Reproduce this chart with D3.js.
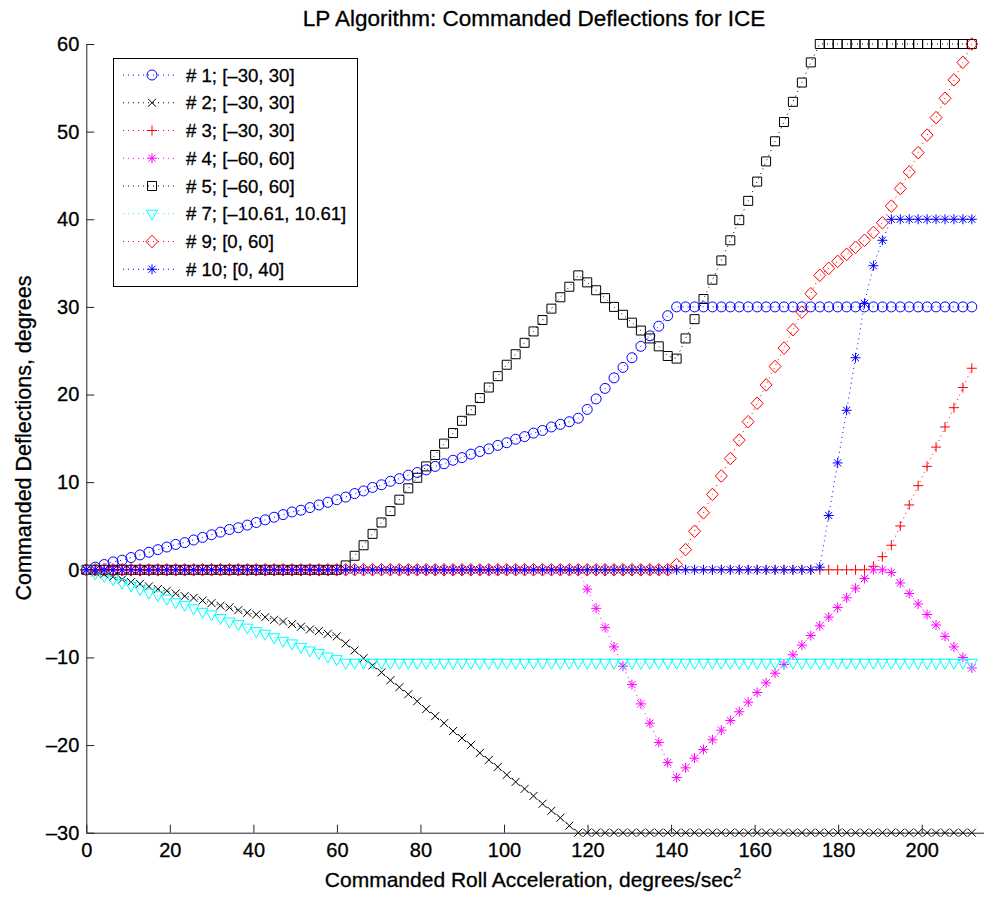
<!DOCTYPE html>
<html>
<head>
<meta charset="utf-8">
<script src="https://d3js.org/d3.v7.min.js"></script>
<style>
body { margin: 0; background: #fff; }
text { font-family: "Liberation Sans", Arial, Helvetica, sans-serif; fill: #000; stroke: #000; stroke-width: 0.3px; }
</style>
</head>
<body>
<div id="chart-area"></div>
<script>
// commanded roll acceleration (x)
var accel = [
  0, 2.14, 4.28, 6.42, 8.57, 10.71, 12.85, 14.99, 17.13, 19.27,
  21.41, 23.56, 25.70, 27.84, 29.98, 32.12, 34.26, 36.40, 38.55, 40.69,
  42.83, 44.97, 47.11, 49.25, 51.39, 53.54, 55.68, 57.82, 59.96, 62.10,
  64.24, 66.38, 68.53, 70.67, 72.81, 74.95, 77.09, 79.23, 81.37, 83.52,
  85.66, 87.80, 89.94, 92.08, 94.22, 96.36, 98.51, 100.65, 102.79, 104.93,
  107.07, 109.21, 111.35, 113.49, 115.64, 117.78, 119.92, 122.06, 124.20, 126.34,
  128.48, 130.63, 132.77, 134.91, 137.05, 139.19, 141.33, 143.47, 145.62, 147.76,
  149.90, 152.04, 154.18, 156.32, 158.46, 160.61, 162.75, 164.89, 167.03, 169.17,
  171.31, 173.45, 175.60, 177.74, 179.88, 182.02, 184.16, 186.30, 188.44, 190.59,
  192.73, 194.87, 197.01, 199.15, 201.29, 203.43, 205.58, 207.72, 209.86, 212.00
]

// deflections, degrees
var defl1 = [
  0, 0.3, 0.6, 0.9, 1.1, 1.4, 1.7, 2.0, 2.3, 2.6,
  2.9, 3.1, 3.4, 3.7, 4.0, 4.3, 4.6, 4.8, 5.1, 5.4,
  5.7, 6.0, 6.3, 6.6, 6.8, 7.1, 7.4, 7.7, 8.0, 8.3,
  8.7, 9.0, 9.4, 9.7, 10.1, 10.4, 10.8, 11.1, 11.4, 11.8,
  12.1, 12.5, 12.8, 13.2, 13.5, 13.8, 14.2, 14.5, 14.9, 15.2,
  15.6, 15.9, 16.3, 16.6, 16.9, 17.3, 18.3, 19.5, 20.7, 21.9,
  23.1, 24.2, 25.5, 26.7, 27.8, 29.0, 30.0, 30, 30, 30,
  30, 30, 30, 30, 30, 30, 30, 30, 30, 30,
  30, 30, 30, 30, 30, 30, 30, 30, 30, 30,
  30, 30, 30, 30, 30, 30, 30, 30, 30, 30
]
var defl2 = [
  0, -0.3, -0.5, -0.8, -1.1, -1.4, -1.6, -1.9, -2.2, -2.4,
  -2.7, -3.0, -3.2, -3.5, -3.8, -4.1, -4.3, -4.6, -4.9, -5.1,
  -5.4, -5.7, -5.9, -6.2, -6.5, -6.8, -7.0, -7.3, -7.6, -8.4,
  -9.2, -10.1, -10.9, -11.7, -12.6, -13.4, -14.2, -15.0, -15.9, -16.7,
  -17.5, -18.4, -19.2, -20.0, -20.9, -21.7, -22.5, -23.4, -24.2, -25.0,
  -25.8, -26.7, -27.5, -28.3, -29.2, -30, -30, -30, -30, -30,
  -30, -30, -30, -30, -30, -30, -30, -30, -30, -30,
  -30, -30, -30, -30, -30, -30, -30, -30, -30, -30,
  -30, -30, -30, -30, -30, -30, -30, -30, -30, -30,
  -30, -30, -30, -30, -30, -30, -30, -30, -30, -30
]
var defl3 = [
  0, 0, 0, 0, 0, 0, 0, 0, 0, 0,
  0, 0, 0, 0, 0, 0, 0, 0, 0, 0,
  0, 0, 0, 0, 0, 0, 0, 0, 0, 0,
  0, 0, 0, 0, 0, 0, 0, 0, 0, 0,
  0, 0, 0, 0, 0, 0, 0, 0, 0, 0,
  0, 0, 0, 0, 0, 0, 0, 0, 0, 0,
  0, 0, 0, 0, 0, 0, 0, 0, 0, 0,
  0, 0, 0, 0, 0, 0, 0, 0, 0, 0,
  0, 0, 0, 0, 0, 0, 0, 0, 0.4, 1.5,
  2.8, 5.0, 7.4, 9.6, 11.8, 14.0, 16.3, 18.5, 20.8, 23.0
]
var defl4 = [
  0, 0, 0, 0, 0, 0, 0, 0, 0, 0,
  0, 0, 0, 0, 0, 0, 0, 0, 0, 0,
  0, 0, 0, 0, 0, 0, 0, 0, 0, 0,
  0, 0, 0, 0, 0, 0, 0, 0, 0, 0,
  0, 0, 0, 0, 0, 0, 0, 0, 0, 0,
  0, 0, 0, 0, 0, 0, -2.2, -4.4, -6.6, -8.8,
  -11.0, -13.1, -15.3, -17.5, -19.7, -22.0, -23.7, -22.6, -21.5, -20.5,
  -19.4, -18.3, -17.2, -16.2, -15.1, -14.0, -12.9, -11.8, -10.8, -9.7,
  -8.6, -7.5, -6.4, -5.4, -4.3, -3.2, -2.1, -1.0, 0, 0,
  -0.3, -1.5, -2.7, -3.9, -5.1, -6.3, -7.6, -8.8, -10.0, -11.2
]
var defl5 = [
  0, 0, 0, 0, 0, 0, 0, 0, 0, 0,
  0, 0, 0, 0, 0, 0, 0, 0, 0, 0,
  0, 0, 0, 0, 0, 0, 0, 0, 0, 0.5,
  1.6, 2.8, 4.1, 5.4, 6.7, 8.0, 9.3, 10.5, 11.8, 13.1,
  14.4, 15.6, 17.0, 18.2, 19.6, 20.8, 22.1, 23.4, 24.6, 25.9,
  27.2, 28.5, 29.8, 31.1, 32.3, 33.6, 32.8, 31.9, 31.0, 30.0,
  29.1, 28.2, 27.3, 26.4, 25.5, 24.4, 24.1, 26.4, 28.6, 30.9,
  33.1, 35.3, 37.6, 39.9, 42.1, 44.3, 46.6, 48.9, 51.1, 53.4,
  55.6, 57.9, 60, 60, 60, 60, 60, 60, 60, 60,
  60, 60, 60, 60, 60, 60, 60, 60, 60, 60
]
var defl7 = [
  0, -0.4, -0.7, -1.1, -1.5, -1.8, -2.2, -2.6, -2.9, -3.3,
  -3.7, -4.0, -4.4, -4.8, -5.1, -5.5, -5.9, -6.2, -6.6, -7.0,
  -7.3, -7.7, -8.1, -8.4, -8.8, -9.2, -9.5, -9.9, -10.2, -10.61,
  -10.61, -10.61, -10.61, -10.61, -10.61, -10.61, -10.61, -10.61, -10.61, -10.61,
  -10.61, -10.61, -10.61, -10.61, -10.61, -10.61, -10.61, -10.61, -10.61, -10.61,
  -10.61, -10.61, -10.61, -10.61, -10.61, -10.61, -10.61, -10.61, -10.61, -10.61,
  -10.61, -10.61, -10.61, -10.61, -10.61, -10.61, -10.61, -10.61, -10.61, -10.61,
  -10.61, -10.61, -10.61, -10.61, -10.61, -10.61, -10.61, -10.61, -10.61, -10.61,
  -10.61, -10.61, -10.61, -10.61, -10.61, -10.61, -10.61, -10.61, -10.61, -10.61,
  -10.61, -10.61, -10.61, -10.61, -10.61, -10.61, -10.61, -10.61, -10.61, -10.61
]
var defl9 = [
  0, 0, 0, 0, 0, 0, 0, 0, 0, 0,
  0, 0, 0, 0, 0, 0, 0, 0, 0, 0,
  0, 0, 0, 0, 0, 0, 0, 0, 0, 0,
  0, 0, 0, 0, 0, 0, 0, 0, 0, 0,
  0, 0, 0, 0, 0, 0, 0, 0, 0, 0,
  0, 0, 0, 0, 0, 0, 0, 0, 0, 0,
  0, 0, 0, 0, 0, 0, 0.6, 2.3, 4.4, 6.5,
  8.6, 10.7, 12.7, 14.8, 16.9, 19.0, 21.1, 23.2, 25.3, 27.4,
  29.4, 31.5, 33.6, 34.4, 35.2, 36.0, 36.8, 37.6, 38.5, 39.6,
  41.5, 43.5, 45.4, 47.6, 49.6, 51.6, 53.8, 55.9, 57.9, 60.0
]
var defl10 = [
  0, 0, 0, 0, 0, 0, 0, 0, 0, 0,
  0, 0, 0, 0, 0, 0, 0, 0, 0, 0,
  0, 0, 0, 0, 0, 0, 0, 0, 0, 0,
  0, 0, 0, 0, 0, 0, 0, 0, 0, 0,
  0, 0, 0, 0, 0, 0, 0, 0, 0, 0,
  0, 0, 0, 0, 0, 0, 0, 0, 0, 0,
  0, 0, 0, 0, 0, 0, 0, 0, 0, 0,
  0, 0, 0, 0, 0, 0, 0, 0, 0, 0,
  0, 0, 0.3, 6.2, 12.2, 18.2, 24.2, 30.4, 34.7, 37.6,
  40, 40, 40, 40, 40, 40, 40, 40, 40, 40
]

// legend labels
var labels = [
  "# 1; [\u201330, 30]",
  "# 2; [\u201330, 30]",
  "# 3; [\u201330, 30]",
  "# 4; [\u201360, 60]",
  "# 5; [\u201360, 60]",
  "# 7; [\u201310.61, 10.61]",
  "# 9; [0, 60]",
  "# 10; [0, 40]"
]
var xTicks = [0, 20, 40, 60, 80, 100, 120, 140, 160, 180, 200]
var yTicks = [-30, -20, -10, 0, 10, 20, 30, 40, 50, 60]

// styles (kept apart from the data)
var colors = ["#0000ff", "#000000", "#ff0000", "#ff00ff", "#000000", "#00ffff", "#ff0000", "#0000ff"]
var symbols = ["o", "x", "+", "*", "s", "v", "d", "*"]
var values = [defl1, defl2, defl3, defl4, defl5, defl7, defl9, defl10]

// marker shapes
function markerPath(t) {
    if (t == "o") return "M-5,0A5,5 0 1,0 5,0A5,5 0 1,0 -5,0"
    if (t == "x") return "M-4,-4L4,4M-4,4L4,-4"
    if (t == "+") return "M-5,0L5,0M0,-5L0,5"
    if (t == "*") return "M-5,0L5,0M0,-5L0,5M-3.6,-3.6L3.6,3.6M-3.6,3.6L3.6,-3.6"
    if (t == "s") return "M-4.5,-4.5L4.5,-4.5L4.5,4.5L-4.5,4.5Z"
    if (t == "v") return "M-5.5,-3.5L5.5,-3.5L0,6.5Z"
    if (t == "d") return "M0,-6.3L6,0L0,6.3L-6,0Z"
}

// margin
var margin = { left: 86.3, top: 44 }
var pxPerX = 4.177
var height = 788.7

var svg = d3.select("#chart-area")
    .append("svg")
        .attr("width", 984)
        .attr("height", 901)
        .style("display", "block")

var g = svg.append("g")
    .attr("transform", "translate(" + margin.left + ", " + margin.top + ")")

// scales
var x = d3.scaleLinear()
    .domain([0, 216])
    .range([0, 216 * pxPerX])
var y = d3.scaleLinear()
    .domain([-30, 60])
    .range([height, 0])

// X Axis
var xAxisCall = d3.axisBottom(x)
    .tickValues(xTicks)
    .tickSizeInner(-8)
    .tickSizeOuter(0)
    .tickPadding(10)
    .tickFormat(function(d){ return d })
var xAxis = g.append("g")
    .attr("class", "x axis")
    .attr("transform", "translate(0," + height + ")")
    .call(xAxisCall)
xAxis.selectAll("text").attr("font-size", "20px").attr("dy", "0.71em")

// Y Axis
var yAxisCall = d3.axisLeft(y)
    .tickValues(yTicks)
    .tickSizeInner(-8)
    .tickSizeOuter(0)
    .tickPadding(7)
    .tickFormat(function(d){ return d < 0 ? "\u2013" + (-d) : d })
var yAxis = g.append("g")
    .attr("class", "y axis")
    .call(yAxisCall)
yAxis.selectAll("text").attr("font-size", "20px")

g.selectAll(".axis path, .axis line").attr("stroke", "#222").attr("stroke-width", 1)
g.selectAll(".axis text").attr("fill", "#000").attr("font-family", "Liberation Sans, Arial, sans-serif")

// series
var line = d3.line()
    .x(function(d, i){ return x(accel[i]) })
    .y(function(d){ return y(d) })

values.forEach(function(vals, k) {
    var sg = g.append("g").attr("class", "series")
    sg.append("path")
        .attr("d", line(vals))
        .attr("fill", "none")
        .attr("stroke", colors[k])
        .attr("stroke-width", 1)
        .attr("stroke-dasharray", "1,4")
    sg.selectAll(".mk")
        .data(vals)
        .enter()
        .append("path")
            .attr("class", "mk")
            .attr("d", markerPath(symbols[k]))
            .attr("transform", function(d, i){ return "translate(" + x(accel[i]) + "," + y(d) + ")" })
            .attr("fill", "none")
            .attr("stroke", colors[k])
            .attr("stroke-width", 1)
})

// legend
var lg = svg.append("g").attr("class", "legend")
lg.append("rect")
    .attr("x", 113.5).attr("y", 58.5)
    .attr("width", 244).attr("height", 228)
    .attr("fill", "#fff")
    .attr("stroke", "#000")
    .attr("stroke-width", 1)
labels.forEach(function(lab, k) {
    var ry = 75 + k * 27.75
    lg.append("line")
        .attr("x1", 123).attr("x2", 178)
        .attr("y1", ry).attr("y2", ry)
        .attr("stroke", colors[k])
        .attr("stroke-width", 1)
        .attr("stroke-dasharray", "1,4")
    lg.append("path")
        .attr("d", markerPath(symbols[k]))
        .attr("transform", "translate(152," + ry + ")")
        .attr("fill", "none")
        .attr("stroke", colors[k])
        .attr("stroke-width", 1)
    lg.append("text")
        .attr("x", 186)
        .attr("y", ry)
        .attr("dy", "0.36em")
        .attr("font-size", "18.6px")
        .text(lab)
})

// Title
svg.append("text")
    .attr("x", 534)
    .attr("y", 26)
    .attr("font-size", "22.5px")
    .attr("text-anchor", "middle")
    .text("LP Algorithm: Commanded Deflections for ICE")

// X Label
var xl = svg.append("text")
    .attr("x", 533)
    .attr("y", 887)
    .attr("font-size", "21px")
    .attr("text-anchor", "middle")
xl.append("tspan").text("Commanded Roll Acceleration, degrees/sec")
xl.append("tspan").attr("font-size", "14px").attr("dy", "-9").text("2")

// Y Label
svg.append("text")
    .attr("transform", "translate(31,438) rotate(-90)")
    .attr("font-size", "21.5px")
    .attr("text-anchor", "middle")
    .text("Commanded Deflections, degrees")
</script>
</body>
</html>
